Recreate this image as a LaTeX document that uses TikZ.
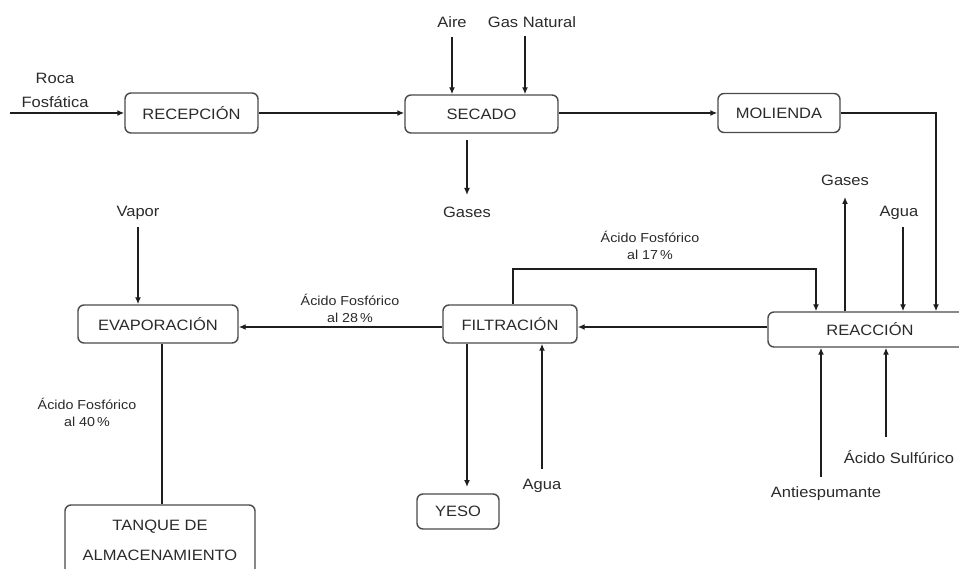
\documentclass[tikz,border=0pt]{standalone}
\usepackage{fontspec}
\setmainfont{Liberation Sans}[FakeStretch=1.1]
\usetikzlibrary{arrows.meta}
\definecolor{boxc}{HTML}{4A4A4A}
\definecolor{linec}{HTML}{1E1E1E}
\definecolor{txtc}{HTML}{2A2A2A}
\tikzset{
  procbox/.style={draw=boxc, rounded corners=6pt, line width=1.4pt, text=txtc,
    font=\fontsize{15}{18}\selectfont, inner sep=0pt, align=center},
  lab/.style={text=txtc, font=\fontsize{15}{24}\selectfont, inner sep=0pt, align=center},
  smalllab/.style={text=txtc, font=\fontsize{13}{17}\selectfont, inner sep=0pt, align=center},
  conn/.style={draw=linec, line width=1.5pt},
  arr/.style={conn, -{Latex[length=7pt,width=6pt]}}
}
\begin{document}
\begin{tikzpicture}[x=1pt,y=-1pt]
\useasboundingbox (0,0) rectangle (959,569);
\clip (0,0) rectangle (959,569);
% boxes
\node[procbox, minimum width=133pt, minimum height=40pt] (rec) at (191.5,113) {RECEPCIÓN};
\node[procbox, minimum width=153pt, minimum height=38pt] (sec) at (481.5,114) {SECADO};
\node[procbox, minimum width=122pt, minimum height=39pt] (mol) at (779,113) {MOLIENDA};
\node[procbox, minimum width=204pt, minimum height=35pt] (rea) at (870,329.5) {REACCIÓN};
\node[procbox, minimum width=134pt, minimum height=38pt] (fil) at (510,324) {FILTRACIÓN};
\node[procbox, minimum width=160pt, minimum height=38pt] (eva) at (158,324) {EVAPORACIÓN};
\node[procbox, minimum width=190pt, minimum height=70pt, font=\fontsize{15}{30}\selectfont] (tan) at (160,540) {TANQUE DE\\ALMACENAMIENTO};
\node[procbox, minimum width=82pt, minimum height=35pt] (yes) at (458,511.5) {YESO};
% labels
\node[lab] (roca) at (55,90) {Roca\\Fosfática};
\node[lab] (aire) at (452,22) {Aire};
\node[lab] (gasn) at (532,22) {Gas Natural};
\node[lab] (gas1) at (467,212) {Gases};
\node[lab] (gas2) at (845,180) {Gases};
\node[lab] (agua1) at (899,213) {Agua};
\node[lab] (vapor) at (138,213) {Vapor};
\node[lab] (agua2) at (542,486) {Agua};
\node[lab] (anti) at (826,494) {Antiespumante};
\node[lab] (sulf) at (899,457) {Ácido Sulfúrico};
\node[smalllab] (a17) at (650,245) {Ácido Fosfórico\\al 17\,\%};
\node[smalllab] (a28) at (350,308) {Ácido Fosfórico\\al 28\,\%};
\node[smalllab] (a40) at (87,412) {Ácido Fosfórico\\al 40\,\%};
% free ends
\coordinate (rocaS) at (10,113);
\coordinate (aireS) at (452,37);
\coordinate (gasnS) at (525,36);
\coordinate (gas1S) at (467,140);
\coordinate (gas1E) at (467,195);
\coordinate (mc) at (936,113);
\coordinate (gas2E) at (845,197);
\coordinate (agua1S) at (903,227);
\coordinate (l17a) at (513,269);
\coordinate (l17b) at (816,269);
\coordinate (ym) at (0,327);
\coordinate (vapS) at (138,227);
\coordinate (evx) at (162,0);
\coordinate (yx) at (467,0);
\coordinate (yE) at (467,487);
\coordinate (agua2S) at (542,469);
\coordinate (antiS) at (821,477);
\coordinate (sulfS) at (886,437);
% connectors
\draw[arr] (rocaS) -- (rec.west);
\draw[arr] (rec.east) -- (sec.west |- rec.east);
\draw[arr] (aireS) -- (aireS |- sec.north);
\draw[arr] (gasnS) -- (gasnS |- sec.north);
\draw[arr] (gas1S) -- (gas1E);
\draw[arr] (sec.east |- mol.west) -- (mol.west);
\draw[arr] (mol.east) -- (mc) -- (mc |- rea.north);
\draw[arr] (gas2E |- rea.north) -- (gas2E);
\draw[arr] (agua1S) -- (agua1S |- rea.north);
\draw[arr] (l17a |- fil.north) -- (l17a) -- (l17b) -- (l17b |- rea.north);
\draw[arr] (rea.west |- ym) -- (fil.east |- ym);
\draw[arr] (fil.west |- ym) -- (eva.east |- ym);
\draw[arr] (vapS) -- (vapS |- eva.north);
\draw[conn] (evx |- eva.south) -- (evx |- tan.north);
\draw[arr] (yx |- fil.south) -- (yE);
\draw[arr] (agua2S) -- (agua2S |- fil.south);
\draw[arr] (antiS) -- (antiS |- rea.south);
\draw[arr] (sulfS) -- (sulfS |- rea.south);
\end{tikzpicture}
\end{document}
